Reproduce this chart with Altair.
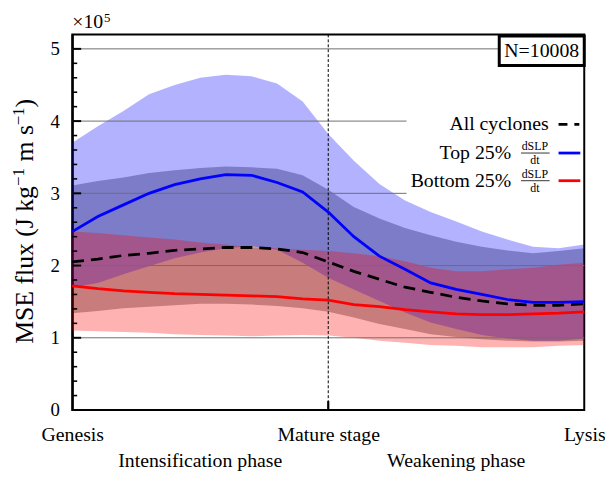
import altair as alt
import pandas as pd

FONT = "Liberation Serif"

# position along life cycle (% : 0 = Genesis, 50 = Mature stage, 100 = Lysis)
pct = [0, 5, 10, 15, 20, 25, 30, 35, 40, 45, 50, 55, 60, 65, 70, 75, 80, 85, 90, 95, 100]

# All cyclones (x1e5)
all_mean = [2.05, 2.09, 2.14, 2.17, 2.21, 2.23, 2.25, 2.25, 2.23, 2.18, 2.05, 1.92, 1.81, 1.70, 1.63, 1.56, 1.51, 1.47, 1.45, 1.45, 1.47]
all_lo = [1.34, 1.37, 1.41, 1.43, 1.45, 1.47, 1.47, 1.46, 1.44, 1.41, 1.36, 1.28, 1.19, 1.12, 1.05, 1.01, 0.98, 0.96, 0.95, 0.95, 0.96]
all_hi = [3.11, 3.17, 3.22, 3.28, 3.32, 3.35, 3.37, 3.36, 3.34, 3.25, 3.05, 2.81, 2.65, 2.52, 2.42, 2.33, 2.26, 2.21, 2.17, 2.20, 2.24]

# Top 25% dSLP/dt
top_mean = [2.47, 2.68, 2.84, 3.00, 3.12, 3.20, 3.26, 3.25, 3.15, 3.02, 2.74, 2.40, 2.13, 1.95, 1.76, 1.67, 1.60, 1.53, 1.49, 1.49, 1.50]
top_lo = [1.70, 1.76, 1.88, 1.99, 2.10, 2.18, 2.24, 2.27, 2.22, 2.04, 1.83, 1.67, 1.51, 1.35, 1.21, 1.12, 1.04, 0.99, 0.96, 0.96, 0.99]
top_hi = [3.70, 3.93, 4.14, 4.37, 4.50, 4.60, 4.64, 4.62, 4.52, 4.27, 3.82, 3.45, 3.13, 2.90, 2.74, 2.61, 2.47, 2.36, 2.26, 2.24, 2.29]

# Bottom 25% dSLP/dt
bot_mean = [1.72, 1.68, 1.65, 1.63, 1.61, 1.60, 1.59, 1.58, 1.57, 1.54, 1.52, 1.46, 1.43, 1.39, 1.36, 1.33, 1.32, 1.32, 1.33, 1.34, 1.36]
bot_lo = [1.10, 1.09, 1.08, 1.07, 1.05, 1.04, 1.03, 1.02, 1.03, 1.04, 1.03, 1.00, 0.96, 0.93, 0.90, 0.89, 0.87, 0.87, 0.87, 0.89, 0.90]
bot_hi = [2.47, 2.45, 2.42, 2.39, 2.36, 2.32, 2.29, 2.25, 2.24, 2.22, 2.20, 2.17, 2.13, 2.06, 1.97, 1.92, 1.92, 1.95, 1.97, 2.01, 2.04]

# grid lines (value, end of line along x)
grid_vals = [1, 2, 3, 4, 5]
grid_end = [100, 100, 65.3, 65.3, 83.4]

major_ticks = [0, 1, 2, 3, 4, 5]
minor_ticks = [round(0.2 * i, 1) for i in range(26) if (i % 5) != 0]

# y-axis title pieces
ytitle_text = ["MSE flux (J kg", "\u22121", "m s", "\u22121", ")"]
ytitle_size = [26, 17, 26, 17, 26]

df = pd.DataFrame({
    "pct": pct,
    "all_mean": all_mean, "all_lo": all_lo, "all_hi": all_hi,
    "top_mean": top_mean, "top_lo": top_lo, "top_hi": top_hi,
    "bot_mean": bot_mean, "bot_lo": bot_lo, "bot_hi": bot_hi,
})
grid_df = pd.DataFrame({"y": grid_vals, "x0": [0] * len(grid_vals), "x1": grid_end})

xscale = alt.Scale(domain=[0, 100], nice=False, zero=False)
yscale = alt.Scale(domain=[0, 5.2], nice=False, zero=False)

label_expr = "datum.value == 0 ? 'Genesis' : (datum.value == 50 ? 'Mature stage' : 'Lysis')"
xaxis = alt.Axis(values=[0, 50, 100], labelExpr=label_expr, ticks=False, domain=False,
                 grid=False, title=None, labelFont=FONT, labelFontSize=20,
                 labelColor="black", labelPadding=15, labelFlush=False)
yaxis = alt.Axis(values=major_ticks, ticks=False, domain=True, domainColor="black",
                 domainWidth=2.2, grid=False, labelFont=FONT, labelFontSize=19,
                 labelColor="black", labelPadding=13, title=None)

base = alt.Chart(df)
X = alt.X("pct:Q", scale=xscale, axis=xaxis)


def band(lo, hi, color):
    return base.mark_area(color=color, opacity=0.3, interpolate="linear").encode(
        x=X,
        y=alt.Y(f"{lo}:Q", scale=yscale, axis=yaxis),
        y2=alt.Y2(f"{hi}:Q"),
    )


def line(col, color, dash=None):
    kw = dict(color=color, strokeWidth=2.8)
    if dash:
        kw["strokeDash"] = dash
    return base.mark_line(**kw).encode(
        x=X, y=alt.Y(f"{col}:Q", scale=yscale, axis=yaxis)
    )


band_all = band("all_lo", "all_hi", "black")
band_top = band("top_lo", "top_hi", "#0000ff")
band_bot = band("bot_lo", "bot_hi", "#ff0000")

grid = alt.Chart(grid_df).mark_rule(color="#6e6e6e", strokeWidth=1).encode(
    x=alt.X("x0:Q", scale=xscale, axis=xaxis),
    x2="x1:Q",
    y=alt.Y("y:Q", scale=yscale, axis=yaxis),
)

vline = alt.Chart(pd.DataFrame({"x": [50]})).mark_rule(
    color="black", strokeWidth=1, strokeDash=[3, 2]
).encode(x=alt.X("x:Q", scale=xscale, axis=xaxis), y=alt.value(0), y2=alt.value(380))

xtick = alt.Chart(pd.DataFrame({"x": [50]})).mark_rule(
    color="black", strokeWidth=2.2
).encode(x=alt.X("x:Q", scale=xscale, axis=xaxis), y=alt.value(380), y2=alt.value(371))

ytick_major = alt.Chart(pd.DataFrame({"y": major_ticks})).mark_rule(
    color="black", strokeWidth=2
).encode(y=alt.Y("y:Q", scale=yscale, axis=yaxis), x=alt.value(0), x2=alt.value(9))
ytick_minor = alt.Chart(pd.DataFrame({"y": minor_ticks})).mark_rule(
    color="black", strokeWidth=1.6
).encode(y=alt.Y("y:Q", scale=yscale, axis=yaxis), x=alt.value(0), x2=alt.value(5))

l_all = line("all_mean", "black", [12, 7])
l_top = line("top_mean", "#0000ff")
l_bot = line("bot_mean", "#ff0000")

# y-axis title built from pieces, rotated (reads bottom to top)
yt_start = [313, 153.4, 128.5, 92.0, 73.9]
yt_across = [-40, -49, -40, -49, -40]
ytitle_df = pd.DataFrame({"t": ytitle_text, "s": ytitle_size, "y": yt_start, "x": yt_across})
ytitle = alt.Chart(ytitle_df).mark_text(
    font=FONT, color="black", align="left", baseline="alphabetic", angle=270
).encode(
    x=alt.X("x:Q", scale=None), y=alt.Y("y:Q", scale=None), text="t:N",
    size=alt.Size("s:Q", scale=None, legend=None),
)

# phase labels under the axis
phase_df = pd.DataFrame({"x": [25, 75], "t": ["Intensification phase", "Weakening phase"]})
phases = alt.Chart(phase_df).mark_text(
    font=FONT, fontSize=20, color="black", align="center", baseline="alphabetic"
).encode(x=alt.X("x:Q", scale=xscale, axis=xaxis), y=alt.value(438), text="t:N")

# multiplier
mult = alt.Chart(pd.DataFrame({"t": ["\u00d710"]})).mark_text(
    font=FONT, fontSize=20, color="black", align="left", baseline="alphabetic"
).encode(x=alt.value(0), y=alt.value(-6), text="t:N")
mult_exp = alt.Chart(pd.DataFrame({"t": ["5"]})).mark_text(
    font=FONT, fontSize=13, color="black", align="left", baseline="alphabetic"
).encode(x=alt.value(32), y=alt.value(-13), text="t:N")

# N box
nbox = alt.Chart(pd.DataFrame({"a": [0]})).mark_rect(
    fill="white", stroke="black", strokeWidth=3
).encode(x=alt.value(432), x2=alt.value(518), y=alt.value(1.5), y2=alt.value(31.5))
ntext = alt.Chart(pd.DataFrame({"t": ["N=10008"]})).mark_text(
    font=FONT, fontSize=20, color="black", align="center", baseline="middle"
).encode(x=alt.value(475), y=alt.value(17), text="t:N")

# legend
leg_rows = [91, 120, 148]
leg_df = pd.DataFrame({
    "t": ["All cyclones", "Top 25%", "Bottom 25%"],
    "x": [482, 444, 444],
    "y": leg_rows,
})
leg_text = alt.Chart(leg_df).mark_text(
    font=FONT, fontSize=20, color="black", align="right", baseline="middle"
).encode(x=alt.X("x:Q", scale=None), y=alt.Y("y:Q", scale=None), text="t:N")

frac_df = pd.DataFrame({
    "t": ["dSLP", "dt", "dSLP", "dt"],
    "y": [leg_rows[1] - 7, leg_rows[1] + 7, leg_rows[2] - 7, leg_rows[2] + 7],
})
frac_text = alt.Chart(frac_df).mark_text(
    font=FONT, fontSize=12, color="black", align="center", baseline="middle"
).encode(x=alt.value(468), y=alt.Y("y:Q", scale=None), text="t:N")
frac_bar = alt.Chart(pd.DataFrame({"y": leg_rows[1:]})).mark_rule(
    color="black", strokeWidth=0.8
).encode(x=alt.value(454), x2=alt.value(483), y=alt.Y("y:Q", scale=None))

leg_line_df = pd.DataFrame({"y": leg_rows, "c": ["black", "#0000ff", "#ff0000"]})
leg_all = alt.Chart(leg_line_df.iloc[[0]]).mark_rule(
    color="black", strokeWidth=2.8, strokeDash=[9, 7]
).encode(x=alt.value(492), x2=alt.value(513), y=alt.Y("y:Q", scale=None))
leg_col = alt.Chart(leg_line_df.iloc[[1, 2]]).mark_rule(strokeWidth=2.8).encode(
    x=alt.value(492), x2=alt.value(514), y=alt.Y("y:Q", scale=None),
    color=alt.Color("c:N", scale=None),
)

chart = alt.layer(
    band_all, band_top, band_bot, grid, vline, l_all, l_top, l_bot,
    ytick_major, ytick_minor, xtick, ytitle, phases, mult, mult_exp, nbox, ntext,
    leg_text, frac_text, frac_bar, leg_all, leg_col,
).properties(
    width=518, height=380,
    autosize=alt.AutoSizeParams(type="none"),
    padding={"left": 65, "top": 24, "right": 21, "bottom": 62},
).configure_view(
    stroke="black", strokeWidth=2
)

chart.save("out.html", embed_options={"renderer": "svg", "actions": False})
